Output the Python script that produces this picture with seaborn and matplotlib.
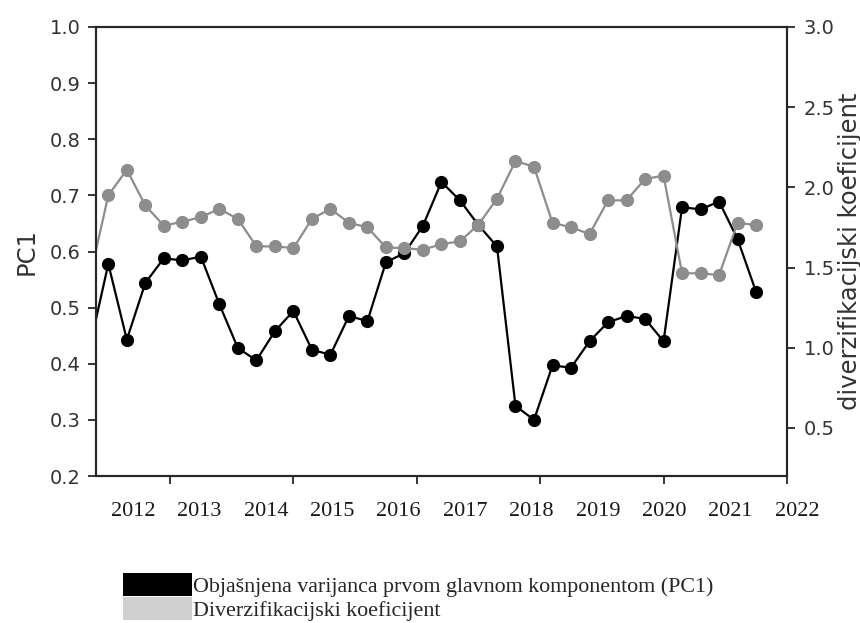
import numpy as np
import pandas as pd
import matplotlib
matplotlib.use("Agg")
import matplotlib.pyplot as plt
import seaborn as sns
from matplotlib.patches import Patch

# ---- data ----
pc1 = [0.430, 0.578, 0.443, 0.544, 0.588, 0.584, 0.591, 0.506, 0.428, 0.406,
       0.458, 0.494, 0.425, 0.416, 0.485, 0.476, 0.581, 0.597, 0.646, 0.724,
       0.691, 0.647, 0.609, 0.325, 0.300, 0.397, 0.393, 0.440, 0.474, 0.485,
       0.480, 0.440, 0.679, 0.675, 0.689, 0.622, 0.528]
div_coef = [1.436, 1.950, 2.110, 1.887, 1.761, 1.786, 1.814, 1.866, 1.803, 1.632,
            1.632, 1.621, 1.803, 1.866, 1.779, 1.751, 1.625, 1.621, 1.611, 1.646,
            1.663, 1.768, 1.929, 2.164, 2.129, 1.779, 1.751, 1.709, 1.919, 1.919,
            2.052, 2.073, 1.464, 1.464, 1.453, 1.779, 1.765]
period = list(range(len(pc1)))  # observation index (quarterly)
years = ["2012", "2013", "2014", "2015", "2016", "2017",
         "2018", "2019", "2020", "2021", "2022"]
left_ticks = [0.2, 0.3, 0.4, 0.5, 0.6, 0.7, 0.8, 0.9, 1.0]
right_ticks = [0.5, 1.0, 1.5, 2.0, 2.5, 3.0]
legend_labels = ["Objašnjena varijanca prvom glavnom komponentom (PC1)",
                 "Diverzifikacijski koeficijent"]

# ---- style ----
sns.set_theme(style="ticks", rc={
    "axes.edgecolor": "#262626",
    "axes.linewidth": 1.5,
    "xtick.color": "#262626",
    "ytick.color": "#262626",
    "xtick.major.size": 6,
    "ytick.major.size": 6,
    "xtick.major.width": 1.3,
    "ytick.major.width": 1.3,
})
plt.rcParams["font.family"] = ["DejaVu Sans"]

W, H = 860, 623
fig = plt.figure(figsize=(W / 100, H / 100), dpi=100)
ax = fig.add_axes([96 / W, 1 - 476 / H, 691 / W, 449 / H])

df = pd.DataFrame({"period": period, "pc1": pc1, "div": div_coef})

sns.lineplot(data=df, x="period", y="pc1", ax=ax, color="black",
             marker="o", markersize=9.5, linewidth=1.6,
             markeredgewidth=0, clip_on=True)
ax2 = ax.twinx()
sns.lineplot(data=df, x="period", y="div", ax=ax2, color="#8d8d8d",
             marker="o", markersize=9.5, linewidth=1.6,
             markeredgewidth=0, clip_on=True)

ax.set_xlim(0.335, 37.67)
ax.set_ylim(0.2, 1.0)
ax2.set_ylim(0.2, 3.0)

ax.set_xticks([4.335, 11.0, 17.67, 24.33, 31.0, 37.67])
ax.set_xticklabels([])
ax.set_xlabel("")
ax.set_yticks(left_ticks)
ax.set_yticklabels([f"{v:.1f}" for v in left_ticks])
ax2.set_yticks(right_ticks)
ax2.set_yticklabels([f"{v:.1f}" for v in right_ticks])

ax.tick_params(axis="y", labelsize=14, labelcolor="#333333", pad=5)
ax2.tick_params(axis="y", labelsize=14, labelcolor="#333333", pad=6)

ax.set_ylabel("PC1", fontsize=17.5, color="#333333", labelpad=8)
ax2.set_ylabel("diverzifikacijski koeficijent", fontsize=17.5,
               color="#333333", labelpad=2)

for s in ax.spines.values():
    s.set_visible(True)

# year labels under the axis
for i, yr in enumerate(years):
    fig.text((133 + 66.4 * i) / W, 1 - 511 / H, yr, ha="center", va="center",
             fontsize=16, family="Liberation Serif", color="#1a1a1a")

# legend
handles = [Patch(facecolor="black", edgecolor="none"),
           Patch(facecolor="#d0d0d0", edgecolor="none")]
fig.legend(handles, legend_labels, loc="upper left",
           bbox_to_anchor=(123 / W, 1 - 573 / H), frameon=False,
           prop={"family": "Liberation Serif", "size": 15.8},
           handlelength=3.15, handleheight=1.25, handletextpad=0.05,
           labelspacing=0.0, borderpad=0.0, borderaxespad=0.0)

fig.savefig("out.png", dpi=100)
